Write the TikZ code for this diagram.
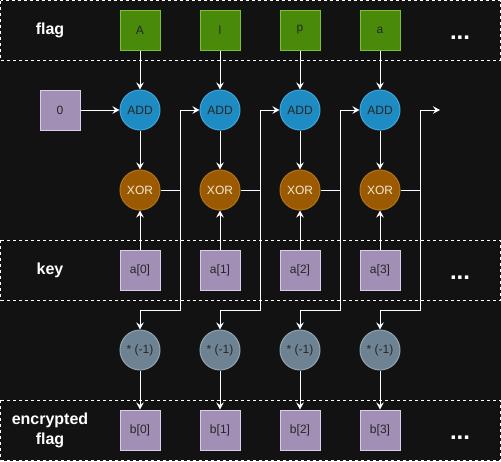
\documentclass[tikz,border=0pt]{standalone}
\usepackage{fontspec}
\setmainfont{Liberation Sans}
\usetikzlibrary{arrows.meta, positioning}

\definecolor{bgdark}{HTML}{121212}
\definecolor{flagfill}{HTML}{4A8A0A}
\definecolor{flagline}{HTML}{7CBF3B}
\definecolor{purplefill}{HTML}{A18FB6}
\definecolor{purpleline}{HTML}{DCCBEE}
\definecolor{addfill}{HTML}{1E8BC3}
\definecolor{addline}{HTML}{3FA6DA}
\definecolor{xorfill}{HTML}{9B5A00}
\definecolor{xorline}{HTML}{B6731C}
\definecolor{negfill}{HTML}{6D8394}
\definecolor{negline}{HTML}{90A4B2}
\definecolor{darktext}{HTML}{262626}
\definecolor{xortext}{HTML}{F2E6D9}

\tikzset{
	band/.style = {draw = white, line width = 1pt, dash pattern = on 3pt off 3pt},
	lbl/.style = {text = white, font = \fontsize{16}{20}\selectfont\bfseries, align = center},
	dots/.style = {text = white, font = \fontsize{24}{24}\selectfont\bfseries, inner sep = 0},
	sqbox/.style = {draw, line width = 1pt, minimum width = 40pt, minimum height = 40pt, inner sep = 0, text = darktext, font = \fontsize{12}{14}\selectfont},
	flagbox/.style = {sqbox, fill = flagfill, draw = flagline},
	keybox/.style = {sqbox, fill = purplefill, draw = purpleline},
	op/.style = {circle, line width = 1pt, minimum width = 40pt, minimum height = 40pt, inner sep = 0, text = darktext, font = \fontsize{12}{14}\selectfont},
	addop/.style = {op, fill = addfill, draw = addline},
	xorop/.style = {op, fill = xorfill, draw = xorline, text = xortext},
	negop/.style = {op, fill = negfill, draw = negline},
}

\begin{document}
\begin{tikzpicture}[x = 1pt, y = -1pt, line width = 1pt, white, >={Stealth[length = 7pt, width = 7.5pt, inset = 2.5pt]}]
	\fill [bgdark] (0, 0) rectangle (501, 461);
	\useasboundingbox (0, 0) rectangle (501, 461);

	% bands
	\draw [band] (0.5, 0.5) rectangle (500, 60);
	\draw [band] (0.5, 240) rectangle (500, 300);
	\draw [band] (0.5, 400) rectangle (500, 460);

	\node [lbl] (lflag) at (50, 30) {flag};
	\node [lbl] (lkey) at (50, 270) {key};
	\node [lbl] (lenc) at (50, 430) {encrypted\\flag};

	\node [dots, anchor = base] (dflag) at (460, 39) {...};
	\node [dots, anchor = base] (dkey) at (460, 279) {...};
	\node [dots, anchor = base] (denc) at (460, 439) {...};

	\foreach \c/\x/\t in { 0/140/A, 1/220/l, 2/300/p, 3/380/a } {
		\node [flagbox] (f\c) at (\x, 30) {\t};
		\node [addop] (add\c) at (\x, 110) {ADD};
		\node [xorop] (xor\c) at (\x, 190) {XOR};
		\node [keybox] (k\c) at (\x, 270) {a[\c]};
		\node [negop] (neg\c) at (\x, 350) {* (-1)};
		\node [keybox] (b\c) at (\x, 430) {b[\c]};
	}

	\node [keybox] (zero) at (60, 110) {0};
	\coordinate (nxt) at (440, 110);

	\draw [->] (zero) to (add0);

	\draw [->] (f0) to (add0);
	\draw [->] (f1) to (add1);
	\draw [->] (f2) to (add2);
	\draw [->] (f3) to (add3);

	\draw [->] (add0) to (xor0);
	\draw [->] (add1) to (xor1);
	\draw [->] (add2) to (xor2);
	\draw [->] (add3) to (xor3);

	\draw [->] (k0) to (xor0);
	\draw [->] (k1) to (xor1);
	\draw [->] (k2) to (xor2);
	\draw [->] (k3) to (xor3);

	\draw [->] (xor0.east) -- ++(20, 0) |- (add1.west);
	\draw [->] (xor1.east) -- ++(20, 0) |- (add2.west);
	\draw [->] (xor2.east) -- ++(20, 0) |- (add3.west);
	\draw [->] (xor3.east) -- ++(20, 0) |- (nxt);

	\draw [->] (xor0.east) -- ++(20, 0) -- ++(0, 120) -| (neg0.north);
	\draw [->] (xor1.east) -- ++(20, 0) -- ++(0, 120) -| (neg1.north);
	\draw [->] (xor2.east) -- ++(20, 0) -- ++(0, 120) -| (neg2.north);
	\draw [->] (xor3.east) -- ++(20, 0) -- ++(0, 120) -| (neg3.north);

	\draw [->] (neg0) to (b0);
	\draw [->] (neg1) to (b1);
	\draw [->] (neg2) to (b2);
	\draw [->] (neg3) to (b3);
\end{tikzpicture}
\end{document}
